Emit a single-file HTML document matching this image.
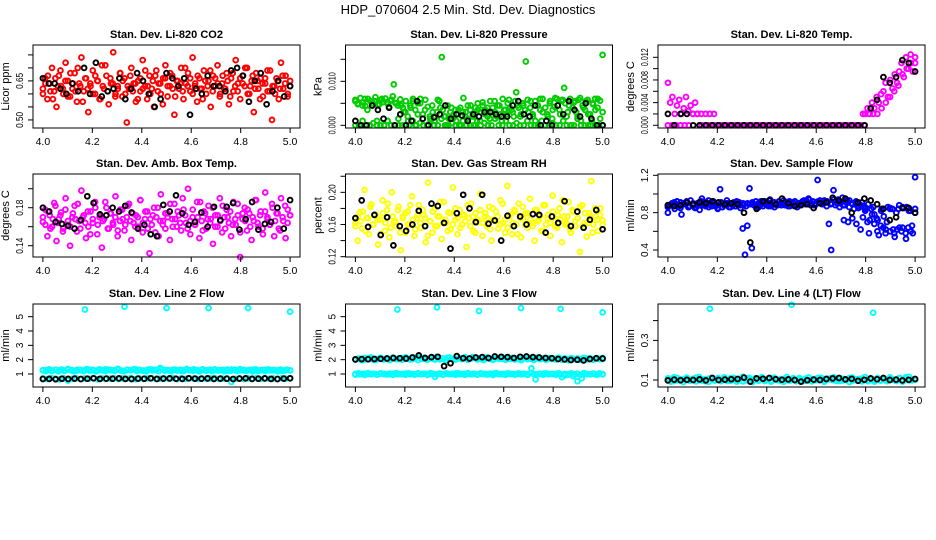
<!DOCTYPE html>
<html><head><meta charset="utf-8"><style>
html,body{margin:0;padding:0;background:#fff;}
svg{display:block;font-family:"Liberation Sans",sans-serif;}
</style></head><body>
<svg id="chart" width="936" height="540" viewBox="0 0 936 540">
<rect width="936" height="540" fill="#fff"/>
<text x="468" y="14" text-anchor="middle" font-size="13">HDP_070604  2.5 Min. Std. Dev. Diagnostics</text>
</svg>
<script>
// ---- data ----
const xTicks = [4.0, 4.2, 4.4, 4.6, 4.8, 5.0];
const xTickLabels = ["4.0", "4.2", "4.4", "4.6", "4.8", "5.0"];

const co2Red = [0.62,0.66,0.58,0.64,0.70,0.61,0.55,0.67,0.63,0.60,0.72,0.65,0.59,0.62,0.68,0.57,0.64,0.74,0.61,0.66,0.53,0.63,0.69,0.60,0.65,0.58,0.71,0.62,0.67,0.56,0.64,0.76,0.60,0.63,0.68,0.59,0.66,0.49,0.62,0.70,0.64,0.57,0.65,0.61,0.73,0.63,0.58,0.67,0.62,0.55,0.69,0.64,0.60,0.66,0.71,0.59,0.63,0.67,0.52,0.65,0.62,0.70,0.58,0.64,0.68,0.61,0.74,0.63,0.57,0.66,0.62,0.69,0.60,0.65,0.55,0.67,0.63,0.71,0.59,0.64,0.62,0.68,0.56,0.66,0.61,0.73,0.64,0.58,0.67,0.63,0.70,0.60,0.65,0.53,0.68,0.62,0.66,0.59,0.64,0.69,0.61,0.50,0.63,0.66,0.58,0.72,0.62,0.67,0.60,0.65];
const co2Red2 = [0.60,0.64,0.67,0.61,0.58,0.66,0.63,0.69,0.62,0.65,0.59,0.68,0.64,0.61,0.70,0.63,0.57,0.66,0.62,0.64,0.60,0.67,0.65,0.58,0.63,0.71,0.61,0.66,0.64,0.59,0.62,0.68,0.65,0.60,0.63,0.67,0.61,0.64,0.58,0.66,0.62,0.69,0.63,0.60,0.65,0.67,0.61,0.64,0.56,0.66,0.63,0.68,0.62,0.59,0.65,0.64,0.61,0.70,0.63,0.66,0.60,0.64,0.67,0.62,0.58,0.65,0.63,0.69,0.61,0.66,0.64,0.60,0.67,0.62,0.65,0.59,0.68,0.63,0.61,0.66,0.64,0.70,0.60,0.63,0.67,0.62,0.65,0.58,0.64,0.66,0.61,0.69,0.63,0.60,0.65,0.62,0.67,0.64,0.59,0.63];
const co2Black = [0.66,0.64,0.64,0.62,0.60,0.64,0.61,0.70,0.60,0.72,0.59,0.61,0.62,0.66,0.58,0.62,0.68,0.65,0.60,0.55,0.58,0.68,0.66,0.63,0.66,0.52,0.62,0.60,0.67,0.63,0.63,0.61,0.69,0.70,0.67,0.57,0.65,0.68,0.56,0.61,0.65,0.59,0.63];

const presGreen = [0.0055,0.005,0,0.0045,0.006,0.0035,0,0.005,0.0055,0.001,0.0048,0.006,0,0.0052,0.0042,0.0058,0.0093,0.005,0,0.0045,0.003,0.0055,0.001,0.004,0.006,0,0.0025,0.005,0.0015,0.0035,0,0.002,0.0045,0.001,0.003,0.0055,0.0155,0.002,0,0.0015,0.004,0.0025,0.001,0.0035,0,0.0062,0.003,0.0015,0.0045,0.002,0,0.0035,0.001,0.0052,0.0025,0.004,0.0015,0.003,0.0055,0.002,0.0045,0.001,0.0035,0.0025,0.0058,0.0035,0.002,0.0075,0.004,0.0025,0.0045,0.0145,0.003,0.0055,0.002,0.001,0.0045,0.0035,0.006,0,0.0025,0.005,0.0015,0.0042,0.006,0.0035,0.0055,0.0085,0.002,0.0045,0,0.0052,0.003,0.0058,0.001,0.004,0.0055,0.0025,0,0.0048,0.0035,0.006,0.0015,0.016];
const presGreen2 = [0.0058,0.0048,0.0062,0.0052,0.0044,0.0060,0.0055,0.0050,0.0064,0.0046,0.0057,0.0053,0.0061,0.0049,0.0056,0.0066,0.0051,0.0045,0.0059,0.0040,0.0030,0.0020,0.0045,0.0055,0.0035,0.0050,0.0060,0.0025,0.0058,0.0042,0.0015,0.0030,0.0020,0.0058,0.0040,0.0035,0.0020,0.0045,0.0030,0.0015,0.0035,0.0025,0.0040,0.0030,0.0020,0.0045,0.0035,0.0025,0.0040,0.0050,0.0030,0.0045,0.0035,0.0020,0.0055,0.0040,0.0030,0.0045,0.0025,0.0060,0.0035,0.0050,0.0040,0.0030,0.0055,0.0045,0.0020,0.0050,0.0035,0.0058,0.0040,0.0025,0.0055,0.0045,0.0060,0.0030,0.0040,0.0020,0.0055,0.0035,0.0062,0.0045,0.0025,0.0058,0.0050,0.0030,0.0060,0.0040,0.0055,0.0020,0.0062,0.0045,0.0035,0.0058,0.0025,0.0050,0.0060,0.0040,0.0056,0.0030];
const presGreenLow = [0,0,0.001,0,0,0.0005,0,0,0,0.001,0,0,0.0015,0,0,0,0.001,0,0.0005,0,0,0.001,0,0,0.0015,0,0,0.0005,0,0,0.001,0,0,0,0.001,0,0.0005,0,0,0.0015,0,0,0.001,0,0,0.0005,0,0,0.001,0,0,0,0.001,0,0,0.0005,0,0,0.001,0,0,0,0.0015,0,0,0,0.001,0,0,0];
const presBlack = [0.001,0,0,0.0045,0.0035,0.0015,0.004,0,0.0025,0,0.001,0.0055,0.0015,0,0.0018,0.0025,0.0045,0.0015,0.0025,0.0022,0.001,0.0025,0.002,0.003,0.003,0.0025,0.002,0.002,0.0045,0.0055,0.0025,0.002,0.0045,0,0.001,0,0.0045,0.0025,0.0055,0.0035,0.002,0.005,0.0015,0,0];

const tempMagenta = [0.0075,0.004,0.005,0.002,0.0035,0.0045,0.002,0.003,0.005,0.0025,0.0035,0.002,0.004,0.002,0,0,0,0,0,0,0,0,0,0,0,0,0,0,0,0,0,0,0,0,0,0,0,0,0,0,0,0,0,0,0,0,0,0,0,0,0,0,0,0,0,0,0,0,0,0,0,0,0,0,0,0,0,0,0,0,0,0,0,0,0,0,0,0,0,0,0,0,0,0,0,0,0.002,0.002,0.003,0.002,0.004,0.003,0.005,0.004,0.0055,0.006,0.0075,0.005,0.008,0.0065,0.009,0.0075,0.0095,0.011,0.0085,0.012,0.010,0.0125,0.0095,0.011];
const tempMagentaLow = [0,0,0,0,0,0,0.002,0.002,0.002,0.002,0.002,0.002,0,0,0,0,0,0,0,0,0,0,0,0,0,0,0,0,0,0,0,0,0,0,0,0,0,0,0,0,0,0,0,0,0,0,0,0,0.002,0.002,0.002,0.003,0.004,0.005,0.006,0.007,0.009,0.010,0.011,0.012];
const tempBlack = [0.002,0,0.002,0.002,0,0,0,0,0,0,0,0,0,0,0,0,0,0,0,0,0,0,0,0,0,0,0,0,0,0,0,0,0.003,0.0045,0.0085,0.0075,0.0085,0.0115,0.011,0.0095];

const ambMagenta = [0.165,0.178,0.150,0.172,0.160,0.185,0.145,0.168,0.175,0.158,0.190,0.162,0.140,0.170,0.182,0.155,0.166,0.198,0.172,0.148,0.160,0.176,0.164,0.186,0.152,0.170,0.138,0.168,0.180,0.158,0.174,0.162,0.192,0.150,0.166,0.178,0.156,0.170,0.184,0.146,0.164,0.172,0.160,0.188,0.154,0.168,0.176,0.132,0.162,0.180,0.170,0.150,0.194,0.166,0.158,0.174,0.146,0.168,0.184,0.160,0.172,0.156,0.178,0.164,0.200,0.152,0.170,0.162,0.186,0.148,0.166,0.176,0.158,0.182,0.168,0.142,0.172,0.160,0.190,0.154,0.170,0.178,0.164,0.150,0.186,0.162,0.172,0.128,0.168,0.180,0.156,0.174,0.146,0.166,0.188,0.160,0.176,0.152,0.196,0.170,0.162,0.184,0.150,0.174,0.158,0.190,0.166,0.148,0.178,0.172];
const ambMagenta2 = [0.170,0.162,0.176,0.158,0.168,0.182,0.164,0.172,0.155,0.178,0.166,0.160,0.174,0.168,0.184,0.158,0.170,0.164,0.176,0.152,0.168,0.180,0.162,0.172,0.166,0.186,0.158,0.174,0.164,0.170,0.156,0.178,0.168,0.162,0.182,0.166,0.174,0.160,0.170,0.188,0.164,0.176,0.158,0.168,0.172,0.154,0.180,0.166,0.162,0.174,0.170,0.184,0.160,0.168,0.176,0.164,0.190,0.172,0.158,0.166,0.178,0.162,0.170,0.186,0.156,0.174,0.168,0.164,0.180,0.160,0.172,0.166,0.182,0.158,0.170,0.176,0.162,0.168,0.184,0.154,0.174,0.166,0.178,0.160,0.170,0.188,0.164,0.172,0.158,0.176,0.168,0.162,0.180,0.166,0.174,0.156,0.170,0.182,0.164,0.172];
const ambBlack = [0.180,0.176,0.165,0.163,0.161,0.158,0.167,0.192,0.185,0.173,0.172,0.180,0.176,0.182,0.175,0.158,0.162,0.152,0.150,0.183,0.176,0.193,0.174,0.162,0.165,0.175,0.160,0.181,0.167,0.181,0.185,0.157,0.168,0.186,0.157,0.163,0.165,0.180,0.158,0.188];

const rhYellow = [0.162,0.140,0.175,0.155,0.203,0.168,0.148,0.185,0.160,0.172,0.135,0.166,0.190,0.152,0.178,0.144,0.200,0.163,0.158,0.182,0.128,0.170,0.150,0.176,0.160,0.195,0.146,0.168,0.184,0.156,0.172,0.138,0.212,0.164,0.150,0.180,0.158,0.170,0.142,0.188,0.162,0.175,0.154,0.206,0.166,0.148,0.178,0.160,0.172,0.132,0.168,0.186,0.152,0.174,0.163,0.198,0.146,0.170,0.158,0.182,0.140,0.166,0.176,0.155,0.190,0.162,0.150,0.208,0.170,0.148,0.178,0.160,0.186,0.144,0.168,0.174,0.156,0.192,0.162,0.140,0.178,0.166,0.152,0.184,0.160,0.172,0.146,0.196,0.164,0.156,0.180,0.138,0.170,0.162,0.188,0.150,0.176,0.158,0.168,0.126,0.184,0.162,0.145,0.174,0.214,0.160,0.170,0.152,0.180,0.165];
const rhYellow2 = [0.158,0.170,0.164,0.176,0.152,0.168,0.182,0.160,0.172,0.166,0.148,0.174,0.162,0.186,0.156,0.170,0.164,0.178,0.150,0.168,0.174,0.160,0.184,0.166,0.154,0.172,0.162,0.178,0.168,0.146,0.164,0.176,0.158,0.170,0.188,0.162,0.166,0.152,0.174,0.160,0.180,0.168,0.156,0.172,0.164,0.184,0.158,0.170,0.150,0.166,0.178,0.162,0.174,0.168,0.154,0.180,0.164,0.170,0.160,0.186,0.166,0.156,0.172,0.162,0.176,0.148,0.168,0.182,0.160,0.174,0.166,0.158,0.178,0.164,0.170,0.152,0.184,0.168,0.162,0.176,0.158,0.172,0.166,0.190,0.160,0.170,0.154,0.178,0.164,0.168,0.182,0.158,0.174,0.162,0.170,0.150,0.180,0.166,0.172,0.160];
const rhBlack = [0.168,0.190,0.157,0.172,0.147,0.169,0.134,0.158,0.152,0.160,0.177,0.158,0.186,0.183,0.162,0.130,0.174,0.197,0.180,0.163,0.197,0.161,0.165,0.140,0.171,0.158,0.170,0.160,0.173,0.172,0.150,0.170,0.162,0.189,0.158,0.176,0.156,0.166,0.178,0.154];

const flowBlue = [0.80,0.88,0.90,0.84,0.92,0.87,0.78,0.89,0.91,0.86,0.93,0.88,0.85,0.90,0.83,0.95,0.88,0.91,0.86,0.89,0.92,0.87,0.84,1.05,0.90,0.88,0.93,0.86,0.89,0.91,0.87,0.90,0.85,0.63,0.35,0.66,1.06,0.42,0.88,0.86,0.90,0.92,0.87,0.89,0.91,0.94,0.88,0.86,0.90,0.92,0.88,0.89,0.91,0.87,0.90,0.88,0.92,0.86,0.90,0.89,0.93,0.91,0.95,0.88,0.92,0.90,1.15,0.93,0.89,0.91,0.87,0.68,0.40,1.04,0.92,0.94,0.90,0.96,0.88,0.93,0.86,0.90,0.84,0.92,0.85,0.88,0.75,0.82,0.70,0.72,0.78,0.68,0.74,0.56,0.82,0.64,0.58,0.86,0.60,0.84,0.54,0.62,0.88,0.60,0.85,0.52,0.64,0.82,0.58,1.18];
const flowBlueBand = [0.88,0.90,0.87,0.91,0.89,0.86,0.90,0.88,0.92,0.87,0.89,0.91,0.88,0.86,0.90,0.89,0.87,0.91,0.88,0.90,0.89,0.92,0.88,0.90,0.87,0.91,0.89,0.90,0.88,0.92,0.90,0.89,0.91,0.93,0.90,0.88,0.91,0.89,0.92,0.90,0.88,0.86,0.72,0.70,0.74,0.68,0.62,0.84,0.58,0.86,0.60,0.84,0.62,0.85,0.58,0.84,0.64,0.86,0.60,0.80];
const flowBlueBand2 = [0.86,0.89,0.91,0.88,0.85,0.90,0.92,0.87,0.89,0.86,0.91,0.88,0.90,0.93,0.87,0.89,0.85,0.91,0.88,0.90,0.86,0.89,0.92,0.88,0.90,0.87,0.89,0.91,0.88,0.86,0.90,0.92,0.89,0.87,0.91,0.88,0.90,0.93,0.89,0.87,0.91,0.88,0.90,0.92,0.89,0.94,0.90,0.88,0.92,0.90,0.93,0.91,0.89,0.94,0.90,0.92,0.88,0.91,0.93,0.89,0.90,0.87,0.91,0.86,0.89,0.84,0.78,0.72,0.66,0.76,0.70,0.84,0.62,0.80,0.64,0.86,0.58,0.82,0.66,0.84];
const flowBlack = [0.88,0.87,0.88,0.91,0.89,0.91,0.90,0.92,0.91,0.89,0.90,0.89,0.80,0.48,0.84,0.92,0.93,0.89,0.95,0.90,0.87,0.88,0.89,0.85,0.90,0.91,0.96,0.93,0.95,0.80,0.91,0.95,0.93,0.89,0.84,0.72,0.75,0.85,0.85,0.80];

const l2High = [1.25,1.28,1.22,1.30,1.26,1.24,1.32,1.27,1.23,1.29,1.25,1.31,1.26,1.24,1.28,1.33,1.27,1.25,1.30,1.23,1.28,1.26,1.34,1.27,1.24,1.29,1.31,1.26,1.42,1.28,1.25,1.30,1.27,1.23,1.29,1.26,1.32,1.25,1.28,1.24,1.30,1.27,1.26,1.29,1.23,1.31,1.27,1.25,1.28,1.26,1.30,1.24,1.27,1.29,1.25,1.28,1.26,1.23,1.27,1.25];
const l2High2 = [1.27,1.20,1.33,1.24,1.29,1.18,1.31,1.22,1.35,1.25,1.19,1.30,1.26,1.21,1.34,1.23,1.29,1.18,1.32,1.25,1.20,1.31,1.27,1.22,1.36,1.24,1.19,1.30,1.26,1.33,1.21,1.28,1.24,1.18,1.32,1.25,1.29,1.20,1.34,1.23,1.27,1.19,1.31,1.24,1.30,1.21,1.35,1.26,1.22,1.29,1.18,1.32,1.25,1.28,1.20,1.33,1.24,1.27,1.19,1.31,1.23,1.30,1.21,1.34,1.26,1.22,1.29,1.18,1.32,1.24,1.28,1.20,1.33,1.25,1.27,1.19,1.31,1.23,1.30,1.26];
const l2Low = [0.70,0.65,0.72,0.68,0.62,0.70,0.55,0.66,0.71,0.64,0.69,0.67,0.72,0.63,0.70,0.66,0.68,0.71,0.65,0.69,0.67,0.72,0.64,0.70,0.66,0.69,0.71,0.65,0.68,0.70,0.67,0.72,0.64,0.69,0.66,0.71,0.68,0.65,0.70,0.67,0.69,0.72,0.66,0.68,0.70,0.45,0.67,0.71,0.65,0.69,0.68,0.72,0.66,0.70,0.67,0.69,0.65,0.71,0.68,0.70];
const l2Black = [0.65,0.66,0.64,0.67,0.66,0.68,0.65,0.67,0.70,0.66,0.68,0.67,0.69,0.66,0.65,0.68,0.67,0.70,0.66,0.68,0.69,0.67,0.66,0.70,0.68,0.67,0.69,0.66,0.68,0.67,0.65,0.68,0.70,0.66,0.67,0.69,0.66,0.65,0.68,0.70];
const l2OutTimes = [4.17,4.33,4.5,4.67,4.83,5.0];
const l2OutValues = [5.5,5.7,5.6,5.6,5.6,5.35];

const l3High = [2.02,2.06,1.98,2.08,2.04,2.00,2.10,2.05,2.01,2.07,2.03,2.12,2.06,2.02,2.09,2.15,2.05,2.03,2.10,2.01,2.08,2.06,2.14,2.07,2.04,2.09,2.11,2.06,2.18,2.08,2.05,2.10,2.07,2.03,2.09,2.06,2.12,2.05,2.08,2.04,2.10,2.07,2.06,2.09,2.03,2.11,2.07,2.05,2.08,2.06,2.10,2.04,2.07,2.09,2.05,2.08,2.06,2.03,2.07,2.05];
const l3High2 = [2.00,2.08,1.96,2.12,2.03,2.16,1.98,2.06,2.13,2.01,2.09,1.97,2.15,2.04,2.10,1.99,2.17,2.05,2.02,2.13,1.98,2.08,2.14,2.00,2.11,2.05,2.19,2.02,2.09,1.97,2.15,2.06,2.01,2.12,2.04,2.18,1.99,2.08,2.13,2.02,2.10,1.98,2.16,2.05,2.00,2.11,2.07,2.14,1.99,2.06,2.12,2.01,2.09,1.97,2.13,2.04,2.10,1.98,2.15,2.03,2.08,1.99,2.12,2.05,2.01,2.14,2.00,2.09,1.96,2.11,2.04,2.07,1.98,2.13,2.02,2.10,1.99,2.08,2.03,2.12];
const l3Low = [1.00,0.98,1.02,0.99,1.01,0.97,1.03,1.00,0.98,1.02,1.01,0.99,1.03,1.00,0.97,1.02,1.00,0.99,1.01,0.80,1.03,0.98,1.02,1.00,1.04,0.99,1.01,1.03,1.00,0.98,1.02,1.01,0.99,1.03,1.00,0.98,1.02,1.01,0.99,1.00,1.02,0.98,1.40,0.62,1.01,1.03,0.99,1.00,1.02,0.98,1.01,0.99,0.85,0.50,0.70,1.00,0.98,1.02,0.99,0.97];
const l3Low2 = [0.96,1.04,1.00,0.94,1.06,0.98,1.02,0.95,1.05,1.00,0.97,1.03,0.94,1.06,0.99,1.01,0.95,1.04,1.00,0.96,1.05,0.98,1.02,0.94,1.06,1.00,0.97,1.03,0.95,1.05,0.99,1.01,0.96,1.04,1.00,0.94,1.06,0.98,1.02,0.95,1.05,1.00,0.97,1.03,0.94,1.06,0.99,1.01,0.95,1.04,1.00,0.96,1.05,0.98,1.02,0.94,1.06,1.00,0.97,1.03,0.95,1.05,0.99,1.01,0.96,1.04,0.78,0.90,0.96,1.05,0.98,1.02,0.94,1.06,1.00,0.97,1.03,0.95,1.05,0.99];
const l3Black = [2.02,2.04,2.03,2.05,2.06,2.08,2.12,2.10,2.08,2.15,2.30,2.12,2.18,2.20,1.55,1.75,2.25,2.10,2.08,2.15,2.18,2.12,2.22,2.20,2.18,2.12,2.20,2.22,2.18,2.15,2.12,2.10,2.05,2.02,1.98,2.00,1.95,2.05,2.10,2.08];
const l3OutTimes = [4.17,4.33,4.5,4.67,4.83,5.0];
const l3OutValues = [5.5,5.65,5.4,5.6,5.55,5.3];

const l4Cyan = [0.100,0.105,0.095,0.110,0.098,0.103,0.108,0.096,0.101,0.112,0.099,0.104,0.094,0.107,0.102,0.097,0.110,0.100,0.105,0.095,0.109,0.101,0.098,0.106,0.093,0.104,0.111,0.099,0.102,0.096,0.108,0.100,0.105,0.097,0.110,0.101,0.095,0.106,0.099,0.103,0.109,0.097,0.102,0.094,0.107,0.100,0.105,0.098,0.111,0.101,0.096,0.104,0.108,0.099,0.102,0.095,0.106,0.100,0.110,0.097,0.103,0.098,0.107,0.101,0.094,0.105,0.100,0.109,0.097,0.104,0.099,0.106,0.102,0.095,0.108,0.100,0.113,0.098,0.104,0.101];
const l4Cyan2 = [0.108,0.092,0.114,0.098,0.104,0.090,0.112,0.100,0.106,0.093,0.115,0.097,0.103,0.091,0.110,0.099,0.107,0.094,0.113,0.101,0.096,0.111,0.092,0.105,0.116,0.098,0.102,0.090,0.109,0.100,0.114,0.095,0.106,0.092,0.112,0.099,0.104,0.091,0.115,0.097,0.108,0.094,0.110,0.101,0.096,0.113,0.093,0.105,0.099,0.111,0.091,0.107,0.102,0.114,0.095,0.109,0.098,0.104,0.090,0.112,0.100,0.106,0.093,0.115,0.097,0.103,0.092,0.110,0.099,0.107,0.094,0.113,0.101,0.096,0.111,0.092,0.105,0.116,0.098,0.102];
const l4Black = [0.098,0.102,0.099,0.101,0.100,0.103,0.098,0.110,0.100,0.102,0.104,0.105,0.112,0.092,0.108,0.106,0.110,0.104,0.101,0.103,0.100,0.092,0.099,0.102,0.100,0.105,0.108,0.110,0.103,0.106,0.096,0.101,0.108,0.104,0.110,0.100,0.102,0.098,0.101,0.105];
const l4OutTimes = [4.17,4.5,4.83];
const l4OutValues = [0.46,0.48,0.44];

// ---- drawing ----
const NS = "http://www.w3.org/2000/svg";
const svg = document.getElementById("chart");
const W = 267, H = 83;
const colX = [33, 345.5, 658];
const rowY = [45, 174, 304];

function mk(tag, attrs, parent) {
  const e = document.createElementNS(NS, tag);
  for (const k in attrs) e.setAttribute(k, attrs[k]);
  (parent || svg).appendChild(e);
  return e;
}
function evenTimes(n) { const t = []; for (let i = 0; i < n; i++) t.push(4 + i / (n - 1)); return t; }

function panel(p) {
  const x0 = colX[p.col], y0 = rowY[p.row];
  const g = mk("g", {});
  
  
  const xs = t => x0 + (t - 3.96) / 1.08 * W;
  const ys = v => y0 + H - (v - p.dom[0]) / (p.dom[1] - p.dom[0]) * H;
  const ttl = mk("text", {x: x0 + W / 2, y: y0 - 7, "text-anchor": "middle", "font-size": 11, "font-weight": "bold"}, g);
  ttl.textContent = p.title;
  
  
  p.series.forEach(s => {
    const sg = mk("g", {fill: "none", stroke: s.color, "stroke-width": 1.9}, g);
    
    
    const t = s.times || evenTimes(s.values.length);
    s.values.forEach((v, i) => {
      const c = mk("circle", {cx: xs(t[i]).toFixed(1), cy: ys(v).toFixed(1), r: 2.4}, sg);
      
      
    });
  });
  const box = mk("rect", {x: x0, y: y0, width: W, height: H, fill: "none", stroke: "#000", "stroke-width": 1}, g);
  
  
  const xa = mk("g", {stroke: "#000", "stroke-width": 1}, g);
  
  
  xTicks.forEach((t, i) => {
    mk("line", {x1: xs(t), x2: xs(t), y1: y0 + H, y2: y0 + H + 5}, xa);
    const lb = mk("text", {x: xs(t), y: y0 + H + 17, "text-anchor": "middle", "font-size": 10.5, stroke: "none", fill: "#000"}, xa);
    lb.textContent = xTickLabels[i];
    
    
  });
  const ya = mk("g", {stroke: "#000", "stroke-width": 1}, g);
  
  
  p.yTicks.forEach(v => mk("line", {x1: x0 - 5, x2: x0, y1: ys(v), y2: ys(v)}, ya));
  p.yLabels.forEach((v, i) => {
    const yy = ys(v), xx = x0 - 10;
    const txt = p.yLabelText[i];
    const attrs = {x: xx, y: yy, transform: `rotate(-90 ${xx} ${yy})`, "text-anchor": "middle", "font-size": 10, stroke: "none", fill: "#000"};
    if (txt.length >= 4) { attrs.textLength = Math.min(18, txt.length * 4); attrs.lengthAdjust = "spacingAndGlyphs"; }
    const lb = mk("text", attrs, ya);
    lb.textContent = txt;
    
    
  });
  const yt = mk("text", {x: x0 - 24, y: y0 + H / 2, transform: `rotate(-90 ${x0 - 24} ${y0 + H / 2})`, "text-anchor": "middle", "font-size": 11}, g);
  yt.textContent = p.ylab;
  
  
}

panel({name: "panel-co2", col: 0, row: 0, title: "Stan. Dev. Li-820 CO2", ylab: "Licor ppm", dom: [0.469, 0.788],
  yTicks: [0.50, 0.55, 0.60, 0.65, 0.70, 0.75], yLabels: [0.50, 0.65], yLabelText: ["0.50", "0.65"],
  series: [{name: "co2-series", color: "#ff0000", values: co2Red}, {name: "co2-series-2", color: "#ff0000", values: co2Red2}, {name: "co2-black-series", color: "#000", values: co2Black}]});
panel({name: "panel-pressure", col: 1, row: 0, title: "Stan. Dev. Li-820 Pressure", ylab: "kPa", dom: [-0.00061, 0.01825],
  yTicks: [0, 0.005, 0.010, 0.015], yLabels: [0, 0.010], yLabelText: ["0.000", "0.010"],
  series: [{name: "pressure-series", color: "#00cc00", values: presGreen}, {name: "pressure-series-2", color: "#00cc00", values: presGreen2}, {name: "pressure-low-series", color: "#00cc00", values: presGreenLow}, {name: "pressure-black-series", color: "#000", values: presBlack}]});
panel({name: "panel-temp", col: 2, row: 0, title: "Stan. Dev. Li-820 Temp.", ylab: "degrees C", dom: [-0.00048, 0.01417],
  yTicks: [0, 0.002, 0.004, 0.006, 0.008, 0.010, 0.012], yLabels: [0, 0.004, 0.008, 0.012], yLabelText: ["0.000", "0.004", "0.008", "0.012"],
  series: [{name: "temp-series", color: "#ff00ff", values: tempMagenta}, {name: "temp-low-series", color: "#ff00ff", values: tempMagentaLow}, {name: "temp-black-series", color: "#000", values: tempBlack}]});
panel({name: "panel-amb-box-temp", col: 0, row: 1, title: "Stan. Dev. Amb. Box Temp.", ylab: "degrees C", dom: [0.1281, 0.2155],
  yTicks: [0.14, 0.16, 0.18, 0.20], yLabels: [0.14, 0.18], yLabelText: ["0.14", "0.18"],
  series: [{name: "amb-series", color: "#ff00ff", values: ambMagenta}, {name: "amb-series-2", color: "#ff00ff", values: ambMagenta2}, {name: "amb-black-series", color: "#000", values: ambBlack}]});
panel({name: "panel-rh", col: 1, row: 1, title: "Stan. Dev. Gas Stream RH", ylab: "percent", dom: [0.1196, 0.2228],
  yTicks: [0.12, 0.14, 0.16, 0.18, 0.20, 0.22], yLabels: [0.12, 0.16, 0.20], yLabelText: ["0.12", "0.16", "0.20"],
  series: [{name: "rh-series", color: "#ffff00", values: rhYellow}, {name: "rh-series-2", color: "#ffff00", values: rhYellow2}, {name: "rh-black-series", color: "#000", values: rhBlack}]});
panel({name: "panel-sample-flow", col: 2, row: 1, title: "Stan. Dev. Sample Flow", ylab: "ml/min", dom: [0.325, 1.214],
  yTicks: [0.4, 0.6, 0.8, 1.0, 1.2], yLabels: [0.4, 0.8, 1.2], yLabelText: ["0.4", "0.8", "1.2"],
  series: [{name: "sample-flow-series", color: "#0000ff", values: flowBlue}, {name: "sample-flow-band", color: "#0000ff", values: flowBlueBand}, {name: "sample-flow-band-2", color: "#0000ff", values: flowBlueBand2}, {name: "sample-flow-black-series", color: "#000", values: flowBlack}]});
panel({name: "panel-line2", col: 0, row: 2, title: "Stan. Dev. Line 2 Flow", ylab: "ml/min", dom: [0.093, 5.885],
  yTicks: [1, 2, 3, 4, 5], yLabels: [1, 2, 3, 4, 5], yLabelText: ["1", "2", "3", "4", "5"],
  series: [{name: "line2-high-series", color: "#00ffff", values: l2High}, {name: "line2-high-series-2", color: "#00ffff", values: l2High2}, {name: "line2-low-series", color: "#00ffff", values: l2Low},
    {name: "line2-outliers", color: "#00ffff", values: l2OutValues, times: l2OutTimes}, {name: "line2-black-series", color: "#000", values: l2Black}]});
panel({name: "panel-line3", col: 1, row: 2, title: "Stan. Dev. Line 3 Flow", ylab: "ml/min", dom: [0.093, 5.885],
  yTicks: [1, 2, 3, 4, 5], yLabels: [1, 2, 3, 4, 5], yLabelText: ["1", "2", "3", "4", "5"],
  series: [{name: "line3-high-series", color: "#00ffff", values: l3High}, {name: "line3-high-series-2", color: "#00ffff", values: l3High2}, {name: "line3-low-series", color: "#00ffff", values: l3Low}, {name: "line3-low-series-2", color: "#00ffff", values: l3Low2},
    {name: "line3-outliers", color: "#00ffff", values: l3OutValues, times: l3OutTimes}, {name: "line3-black-series", color: "#000", values: l3Black}]});
panel({name: "panel-line4", col: 2, row: 2, title: "Stan. Dev. Line 4 (LT) Flow", ylab: "ml/min", dom: [0.0646, 0.4838],
  yTicks: [0.1, 0.2, 0.3, 0.4], yLabels: [0.1, 0.3], yLabelText: ["0.1", "0.3"],
  series: [{name: "line4-series", color: "#00ffff", values: l4Cyan}, {name: "line4-series-2", color: "#00ffff", values: l4Cyan2}, {name: "line4-outliers", color: "#00ffff", values: l4OutValues, times: l4OutTimes},
    {name: "line4-black-series", color: "#000", values: l4Black}]});
</script>
</body></html>
